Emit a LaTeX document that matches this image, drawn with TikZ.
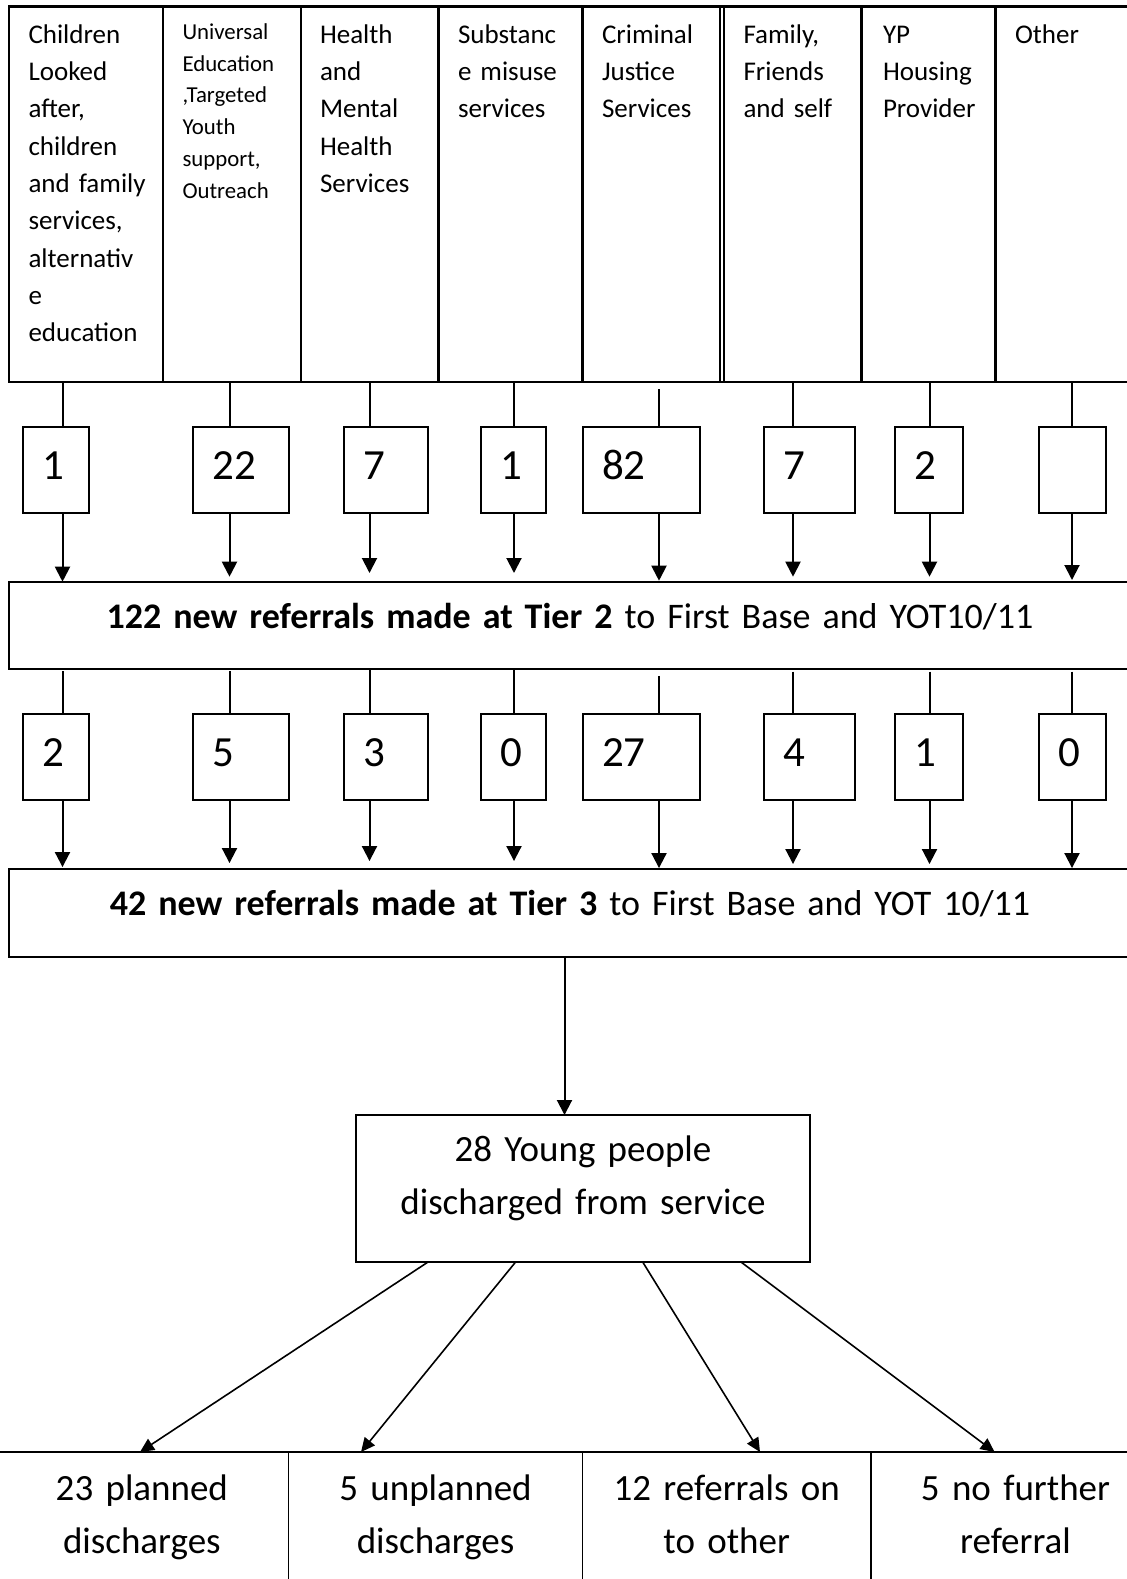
\documentclass[tikz,border=0pt]{standalone}
\usepackage{fontspec}
\setmainfont{Carlito}
\usetikzlibrary{arrows.meta}

\begin{document}
\begin{tikzpicture}[x=0.5pt,y=-0.5pt,
  every node/.style={inner sep=0pt, outer sep=0pt},
  colcell/.style={draw, line width=1.1pt, rectangle, anchor=north west, minimum height=187.75pt},
  coltext/.style={anchor=base west, align=left, text width=75pt, font=\fontsize{13.5}{18.65}\selectfont},
  smalltext/.style={coltext, font=\fontsize{11.4}{15.9}\selectfont},
  numbox/.style={draw, line width=1pt, rectangle, inner xsep=9.75pt, minimum height=43pt,
    text height=14pt, text depth=5pt, align=left, font=\fontsize{21.5}{25}\selectfont},
  tierbox/.style={draw, line width=1.1pt, rectangle, minimum width=561pt, minimum height=43.8pt,
    text width=540pt, align=center, text height=12pt, text depth=9pt, font=\fontsize{18}{24}\selectfont},
  ypbox/.style={draw, line width=1pt, rectangle, minimum width=227pt, minimum height=73.5pt,
    text width=210pt, align=center, text height=13pt, text depth=40.5pt, font=\fontsize{18.5}{26.65}\selectfont},
  outcell/.style={draw, line width=0.75pt, rectangle, minimum height=79pt,
    text height=13pt, text depth=44pt, align=center, font=\fontsize{18.5}{26.65}\selectfont},
  wire/.style={line width=1pt},
  arrow/.style={wire, -{Triangle[width=7.5pt,length=7.5pt]}},
  thinarrow/.style={line width=0.8pt, -{Triangle[width=6.5pt,length=7pt]}}
]
\useasboundingbox (0,0) rectangle (1126,1579);

% referral sources table
\node[colcell, minimum width=77pt]    (col1) at (9,6.5) {};
\node[colcell, minimum width=69pt]    (col2) at (163,6.5) {};
\node[colcell, minimum width=68.75pt] (col3) at (301,6.5) {};
\node[colcell, minimum width=72pt]    (col4) at (438.5,6.5) {};
\node[colcell, minimum width=68.75pt] (col5) at (582.5,6.5) {};
\node[colcell, minimum width=68.95pt] (col6) at (723.6,6.5) {};
\node[colcell, minimum width=67pt]    (col7) at (861.5,6.5) {};
\node[colcell, minimum width=72.25pt] (col8) at (995.5,6.5) {};
\draw[line width=1.1pt] (col5.north east) -- (col6.north west);
\draw[line width=1.1pt] (col5.south east) -- (col6.south west);

\node[coltext]   (t1) at (28.5,43.3) {Children\\Looked\\after,\\children\\and family\\services,\\alternativ\\e\\education};
\node[smalltext] (t2) at (182.5,39.3) {Universal\\Education\\,Targeted\\Youth\\support,\\Outreach};
\node[coltext]   (t3) at (320,43.3) {Health\\and\\Mental\\Health\\Services};
\node[coltext]   (t4) at (458,43.3) {Substanc\\e misuse\\services};
\node[coltext]   (t5) at (602,43.3) {Criminal\\Justice\\Services};
\node[coltext]   (t6) at (743.5,43.3) {Family,\\Friends\\and self};
\node[coltext]   (t7) at (883,43.3) {YP\\Housing\\Provider};
\node[coltext]   (t8) at (1015,43.3) {Other};

% connector columns
\coordinate (x1) at (62.5,0);
\coordinate (x2) at (229.5,0);
\coordinate (x3) at (369.5,0);
\coordinate (x4) at (514,0);
\coordinate (x5) at (659,0);
\coordinate (x6) at (793,0);
\coordinate (x7) at (929.5,0);
\coordinate (x8) at (1072,0);

% Tier 2 counts
\node[numbox, text width=13.5pt]  (a1) at (56,470) {1};
\node[numbox, text width=28.65pt] (a2) at (240.85,470) {22};
\node[numbox, text width=22.9pt]  (a3) at (386,470) {7};
\node[numbox, text width=13.25pt] (a4) at (513.45,470) {1};
\node[numbox, text width=39.45pt] (a5) at (641.45,470) {82};
\node[numbox, text width=25.55pt] (a6) at (809.45,470) {7};
\node[numbox, text width=14.5pt]  (a7) at (929,470) {2};
\node[numbox, text width=13.75pt] (a8) at (1072.25,470) {};

\node[tierbox] (tier2) at (570,625.5) {\textbf{122 new referrals made at Tier 2} to First Base and YOT10/11};

% Tier 3 counts
\node[numbox, text width=13.5pt]  (b1) at (56,757) {2};
\node[numbox, text width=28.65pt] (b2) at (240.85,757) {5};
\node[numbox, text width=22.9pt]  (b3) at (386,757) {3};
\node[numbox, text width=13.25pt] (b4) at (513.45,757) {0};
\node[numbox, text width=39.45pt] (b5) at (641.45,757) {27};
\node[numbox, text width=25.55pt] (b6) at (809.45,757) {4};
\node[numbox, text width=14.5pt]  (b7) at (929,757) {1};
\node[numbox, text width=13.75pt] (b8) at (1072.25,757) {0};

\node[tierbox] (tier3) at (570,912.85) {\textbf{42 new referrals made at Tier 3} to First Base and YOT 10/11};

% flow through the two tiers
\foreach \i/\sa/\sb/\sc/\sd in {1/0/0/1/1, 2/0/2.5/1/3, 3/0/4.35/0.5/4, 4/0/4.35/0.5/4,
                                 5/3.5/0.5/3.3/0.5, 6/0/2.5/1.2/2.5, 7/0/2.5/1.2/2.5, 8/0/0.85/1.2/0.5} {
  \draw[wire, shorten <=\sa pt] (col\i.south -| x\i) -- (a\i.north -| x\i);
  \draw[arrow, shorten >=\sb pt] (a\i.south -| x\i) -- (tier2.north -| x\i);
  \draw[wire, shorten <=\sc pt] (tier2.south -| x\i) -- (b\i.north -| x\i);
  \draw[arrow, shorten >=\sd pt] (b\i.south -| x\i) -- (tier3.north -| x\i);
}

% discharges
\node[ypbox] (yp) at (583,1188.5) {28 Young people\\discharged from service};
\coordinate (mid) at (564.5,0);
\draw[arrow] (tier3.south -| mid) -- (yp.north -| mid);

\node[outcell, minimum width=146.85pt, text width=126pt] (out1) at (141.85,1531) {23 planned\\discharges};
\node[outcell, minimum width=146.85pt, text width=126pt] (out2) at (435.55,1531) {5 unplanned\\discharges};
\node[outcell, minimum width=144.3pt, text width=124pt]  (out3) at (726.7,1531) {12 referrals on\\to other};
\node[outcell, minimum width=144.5pt, text width=124pt]  (out4) at (1015.5,1531) {5 no further\\referral};

\coordinate (s1) at (428,0);   \coordinate (e1) at (140,0);
\coordinate (s2) at (515.6,0); \coordinate (e2) at (361,0);
\coordinate (s3) at (642.7,0); \coordinate (e3) at (760,0);
\coordinate (s4) at (741,0);   \coordinate (e4) at (994.6,0);
\foreach \i in {1,2,3,4} {
  \draw[thinarrow] (yp.south -| s\i) -- (out\i.north -| e\i);
}
\end{tikzpicture}
\end{document}
